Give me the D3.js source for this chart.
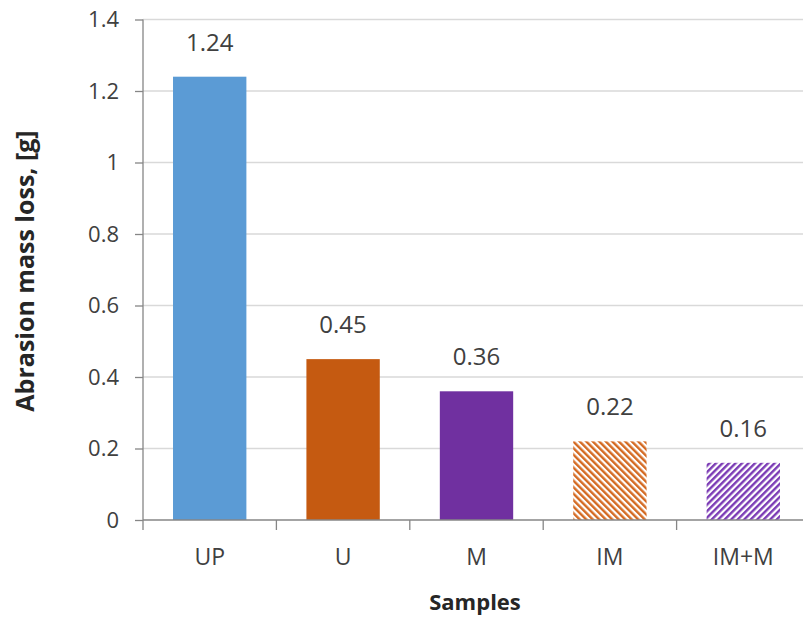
<!DOCTYPE html>
<html><head><meta charset="utf-8">
<script src="https://cdn.jsdelivr.net/npm/d3@7"></script>
<style>body{margin:0;background:#fff}svg{display:block}text{font-family:"Open Sans","Noto Sans",sans-serif}</style>
</head><body>
<svg id="c" width="803" height="619"></svg>
<script>
const categories = ["UP", "U", "M", "IM", "IM+M"];
const values = [1.24, 0.45, 0.36, 0.22, 0.16];
const valueLabels = ["1.24", "0.45", "0.36", "0.22", "0.16"];
const fills = ["#5B9BD5", "#C55A11", "#7030A0", "hatchDown", "hatchUp"];
const yTicks = [0, 0.2, 0.4, 0.6, 0.8, 1, 1.2, 1.4];
const yTickLabels = ["0", "0.2", "0.4", "0.6", "0.8", "1", "1.2", "1.4"];

(function () {
const svg = d3.select("#c");
const mLeft = 143, mRight = 810, mTop = 19.5, mBottom = 520;

const defs = svg.append("defs");
function hatch(id, color, dir) {
  const p = defs.append("pattern").attr("id", id).attr("patternUnits", "userSpaceOnUse")
    .attr("width", 4.6).attr("height", 4.6)
    .attr("patternTransform", `rotate(${dir})`);
  p.append("rect").attr("width", 4.6).attr("height", 4.6).attr("fill", "#fff");
  p.append("rect").attr("width", 2.4).attr("height", 4.6).attr("fill", color);
}
hatch("hatchDown", "#D46A22", -45);
hatch("hatchUp", "#7B3BB5", 45);

const x = d3.scaleBand().domain(categories).range([mLeft, mRight]).paddingInner(0.45).paddingOuter(0.225);
const y = d3.scaleLinear().domain([0, 1.4]).range([mBottom, mTop]);

// gridlines
svg.append("g").selectAll("line").data(yTicks.filter(d => d > 0)).join("line")
  .attr("x1", mLeft).attr("x2", 803).attr("y1", d => y(d)).attr("y2", d => y(d))
  .attr("stroke", "#D9D9D9").attr("stroke-width", 1.3);

// bars
svg.append("g").selectAll("rect").data(categories).join("rect")
  .attr("x", d => x(d)).attr("width", x.bandwidth())
  .attr("y", (d, i) => y(values[i])).attr("height", (d, i) => mBottom - y(values[i]))
  .attr("fill", (d, i) => fills[i].startsWith("#") ? fills[i] : `url(#${fills[i]})`);

// value labels
svg.append("g").selectAll("text").data(categories).join("text")
  .attr("x", d => x(d) + x.bandwidth() / 2).attr("y", (d, i) => y(values[i]) - 26)
  .attr("text-anchor", "middle").attr("font-size", 24).attr("fill", "#404040")
  .text((d, i) => valueLabels[i]);

// y axis
const yAxis = d3.axisLeft(y).tickValues(yTicks).tickFormat((d, i) => yTickLabels[i]).tickSize(8).tickSizeOuter(0);
const ga = svg.append("g").attr("transform", `translate(${mLeft},0)`).call(yAxis);
ga.select(".domain").remove();
ga.selectAll(".tick line").attr("stroke", "#868686").attr("stroke-width", 1.3);
ga.selectAll(".tick text").attr("font-size", 22).attr("fill", "#404040").attr("x", -24)
  .attr("dy", "0.34em").attr("font-family", '"Open Sans",sans-serif');
svg.append("line").attr("x1", mLeft).attr("x2", mLeft).attr("y1", mTop).attr("y2", mBottom + 10)
  .attr("stroke", "#868686").attr("stroke-width", 1.3);

// x axis
svg.append("line").attr("x1", mLeft).attr("x2", 803).attr("y1", mBottom).attr("y2", mBottom)
  .attr("stroke", "#868686").attr("stroke-width", 1.3);
const step = x.step();
svg.append("g").selectAll("line").data(categories.slice(1)).join("line")
  .attr("x1", d => x(d) - x.paddingInner() * step / 2).attr("x2", d => x(d) - x.paddingInner() * step / 2)
  .attr("y1", mBottom).attr("y2", mBottom + 10).attr("stroke", "#868686").attr("stroke-width", 1.3);
svg.append("g").selectAll("text").data(categories).join("text")
  .attr("x", d => x(d) + x.bandwidth() / 2).attr("y", 565)
  .attr("text-anchor", "middle").attr("font-size", 23).attr("fill", "#404040").text(d => d);

// axis titles
svg.append("text").attr("x", 475).attr("y", 610).attr("text-anchor", "middle")
  .attr("font-size", 22).attr("font-weight", "bold").attr("fill", "#262626").text("Samples");
svg.append("text").attr("transform", "translate(34,271) rotate(-90)").attr("text-anchor", "middle")
  .attr("font-size", 25).attr("font-weight", "bold").attr("fill", "#262626").text("Abrasion mass loss, [g]");
})();
</script>
</body></html>
